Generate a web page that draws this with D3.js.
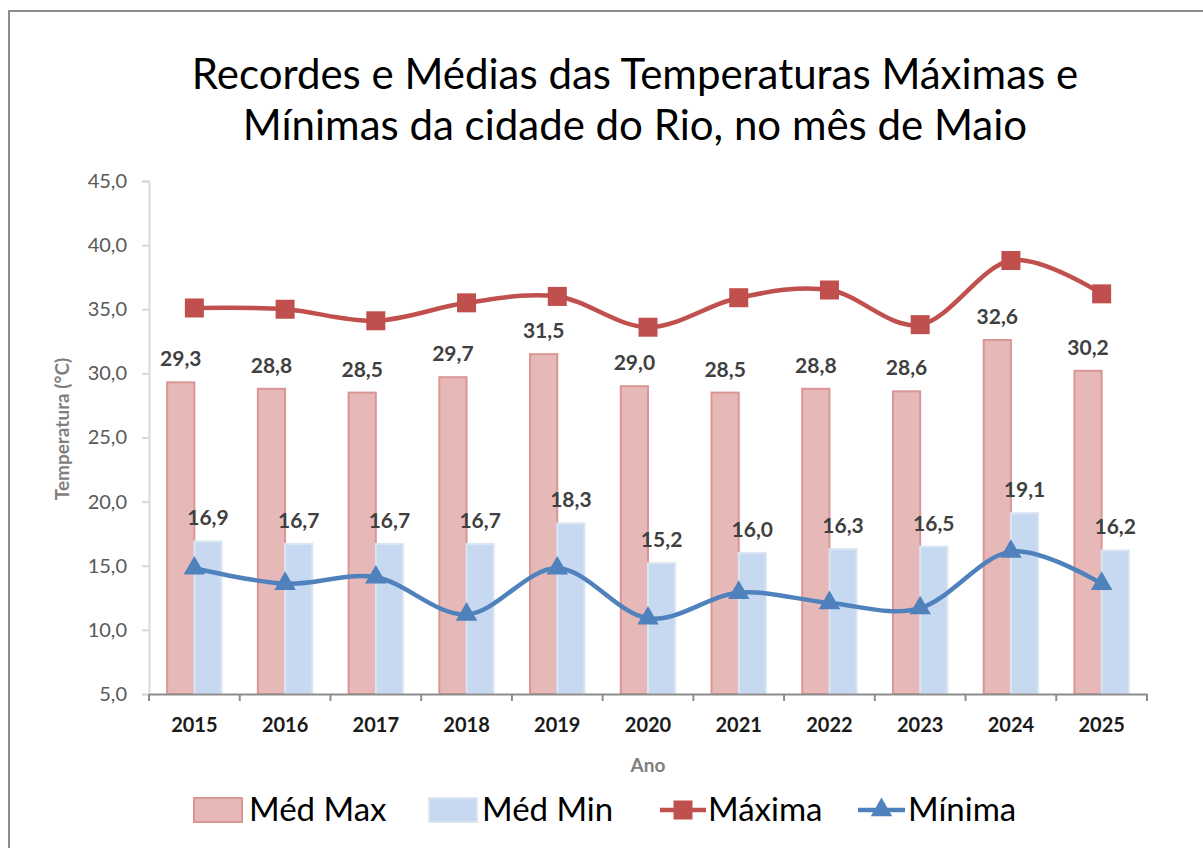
<!DOCTYPE html>
<html>
<head>
<meta charset="utf-8">
<script src="https://cdn.jsdelivr.net/npm/d3@7"></script>
<style>
  body { margin: 0; background: #fff; }
  svg { display: block; font-family: Lato, "Open Sans", sans-serif; }
</style>
</head>
<body>
<div id="chart"></div>
<script>
// data
var anos = ["2015", "2016", "2017", "2018", "2019", "2020", "2021", "2022", "2023", "2024", "2025"];
var medMax = [29.3, 28.8, 28.5, 29.7, 31.5, 29.0, 28.5, 28.8, 28.6, 32.6, 30.2];
var medMin = [16.9, 16.7, 16.7, 16.7, 18.3, 15.2, 16.0, 16.3, 16.5, 19.1, 16.2];
var maxima = [35.1, 35.0, 34.1, 35.5, 36.0, 33.6, 35.9, 36.5, 33.8, 38.8, 36.2];
var minima = [14.8, 13.6, 14.1, 11.2, 14.8, 10.9, 12.9, 12.1, 11.7, 16.1, 13.6];
var yTicks = [5, 10, 15, 20, 25, 30, 35, 40, 45];

var W = 1203, H = 848;
var plot = {left: 149, right: 1147, top: 181, bottom: 694};

var fmt = function (v) { return d3.format(".1f")(v).replace(".", ","); };

var svg = d3.select("#chart").append("svg")
    .attr("width", W)
    .attr("height", H);

// outer chart border
svg.append("rect")
    .attr("x", 9).attr("y", 11)
    .attr("width", 1210).attr("height", 860)
    .attr("fill", "#fff")
    .attr("stroke", "#8c8c8c")
    .attr("stroke-width", 2);

// title
svg.append("text")
    .attr("x", 635).attr("text-anchor", "middle")
    .attr("font-size", 42).attr("fill", "#000")
    .selectAll("tspan")
    .data(["Recordes e Médias das Temperaturas Máximas e", "Mínimas da cidade do Rio, no mês de Maio"])
    .join("tspan")
    .attr("x", 635)
    .attr("y", function (d, i) { return 89 + i * 51; })
    .text(function (d) { return d; });

// scales
var x = d3.scaleBand().domain(anos).range([plot.left, plot.right]);
var sub = d3.scaleBand().domain(["max", "min"])
    .range([x.bandwidth() * 0.2, x.bandwidth() * 0.8]);
var y = d3.scaleLinear().domain([5, 45]).range([plot.bottom, plot.top]);

// y axis
var yAxis = svg.append("g")
    .attr("transform", "translate(" + plot.left + ",0)")
    .call(d3.axisLeft(y).tickValues(yTicks).tickFormat(fmt).tickSize(7).tickPadding(15));
yAxis.select(".domain").attr("stroke", "#d9d9d9").attr("stroke-width", 2);
yAxis.selectAll(".tick line").attr("stroke", "#d9d9d9").attr("stroke-width", 2);
yAxis.selectAll(".tick text").attr("font-size", 20).attr("fill", "#595959")
    .attr("font-family", "Lato, sans-serif");

// bars
svg.append("g").selectAll("rect")
    .data(medMax)
    .join("rect")
    .attr("x", function (d, i) { return x(anos[i]) + sub("max"); })
    .attr("y", function (d) { return y(d); })
    .attr("width", sub.bandwidth())
    .attr("height", function (d) { return y(5) - y(d); })
    .attr("fill", "#e6b9b8")
    .attr("stroke", "#d99694")
    .attr("stroke-width", 2);

svg.append("g").selectAll("rect")
    .data(medMin)
    .join("rect")
    .attr("x", function (d, i) { return x(anos[i]) + sub("min"); })
    .attr("y", function (d) { return y(d); })
    .attr("width", sub.bandwidth())
    .attr("height", function (d) { return y(5) - y(d); })
    .attr("fill", "#c6d9f1")
    .attr("stroke", "#dce6f2")
    .attr("stroke-width", 2);

// x axis
var xAxis = svg.append("g")
    .attr("transform", "translate(0," + plot.bottom + ")")
    .call(d3.axisBottom(x).tickSize(0).tickPadding(24));
xAxis.select(".domain").attr("stroke", "#8c8c8c").attr("stroke-width", 2);
xAxis.selectAll(".tick text").attr("font-size", 20).attr("font-weight", "bold")
    .attr("fill", "#1a1a1a").attr("font-family", "Lato, sans-serif");
// category separator ticks
xAxis.selectAll(".sep")
    .data(anos.concat(["end"]))
    .join("line")
    .attr("class", "sep")
    .attr("x1", function (d) { return d === "end" ? plot.right : x(d); })
    .attr("x2", function (d) { return d === "end" ? plot.right : x(d); })
    .attr("y1", 0).attr("y2", 7)
    .attr("stroke", "#8c8c8c").attr("stroke-width", 2);

// smooth lines
var cx = function (d, i) { return x(anos[i]) + x.bandwidth() / 2; };
var line = d3.line()
    .curve(d3.curveCardinal.tension(0))
    .x(cx)
    .y(function (d) { return y(d); });

svg.append("path")
    .datum(maxima)
    .attr("fill", "none")
    .attr("stroke", "#c0504d")
    .attr("stroke-width", 4.5)
    .attr("d", line);

svg.append("path")
    .datum(minima)
    .attr("fill", "none")
    .attr("stroke", "#4f81bd")
    .attr("stroke-width", 4.5)
    .attr("d", line);

// markers
svg.append("g").selectAll("rect")
    .data(maxima)
    .join("rect")
    .attr("x", function (d, i) { return cx(d, i) - 9.5; })
    .attr("y", function (d) { return y(d) - 9.5; })
    .attr("width", 19).attr("height", 19)
    .attr("fill", "#c0504d");

var tri = d3.symbol().type(d3.symbolTriangle).size(200);
svg.append("g").selectAll("path")
    .data(minima)
    .join("path")
    .attr("transform", function (d, i) { return "translate(" + cx(d, i) + "," + y(d) + ")"; })
    .attr("d", tri)
    .attr("fill", "#4f81bd");

// data labels
svg.append("g").selectAll("text")
    .data(medMax)
    .join("text")
    .attr("x", function (d, i) { return x(anos[i]) + sub("max") + sub.bandwidth() / 2; })
    .attr("y", function (d) { return y(d) - 16; })
    .attr("text-anchor", "middle")
    .attr("font-size", 21).attr("font-weight", "bold").attr("fill", "#404040")
    .text(fmt);

svg.append("g").selectAll("text")
    .data(medMin)
    .join("text")
    .attr("x", function (d, i) { return x(anos[i]) + sub("min") + sub.bandwidth() / 2; })
    .attr("y", function (d) { return y(d) - 16; })
    .attr("text-anchor", "middle")
    .attr("font-size", 21).attr("font-weight", "bold").attr("fill", "#404040")
    .text(fmt);

// axis titles
svg.append("text")
    .attr("x", 648).attr("y", 772)
    .attr("text-anchor", "middle")
    .attr("font-size", 19).attr("font-weight", "bold").attr("fill", "#7f7f7f")
    .text("Ano");

svg.append("text")
    .attr("transform", "translate(69,429) rotate(-90)")
    .attr("text-anchor", "middle")
    .attr("font-size", 19).attr("font-weight", "bold").attr("fill", "#7f7f7f")
    .text("Temperatura (°C)");

// legend
var leg = svg.append("g").attr("transform", "translate(0,810)");
leg.append("rect").attr("x", 194).attr("y", -12).attr("width", 48).attr("height", 24)
    .attr("fill", "#e6b9b8").attr("stroke", "#d99694").attr("stroke-width", 2);
leg.append("rect").attr("x", 429).attr("y", -12).attr("width", 48).attr("height", 24)
    .attr("fill", "#c6d9f1").attr("stroke", "#dce6f2").attr("stroke-width", 2);
leg.append("line").attr("x1", 660).attr("x2", 706).attr("stroke", "#c0504d").attr("stroke-width", 4.5);
leg.append("rect").attr("x", 673.5).attr("y", -9.5).attr("width", 19).attr("height", 19).attr("fill", "#c0504d");
leg.append("line").attr("x1", 858).attr("x2", 905).attr("stroke", "#4f81bd").attr("stroke-width", 4.5);
leg.append("path").attr("transform", "translate(881.5,0)").attr("d", tri).attr("fill", "#4f81bd");

var legText = [["Méd Max", 249], ["Méd Min", 482], ["Máxima", 708], ["Mínima", 908]];
leg.selectAll("text.lt")
    .data(legText)
    .join("text")
    .attr("class", "lt")
    .attr("x", function (d) { return d[1]; })
    .attr("y", 11)
    .attr("font-size", 33).attr("fill", "#000")
    .text(function (d) { return d[0]; });
</script>
</body>
</html>
